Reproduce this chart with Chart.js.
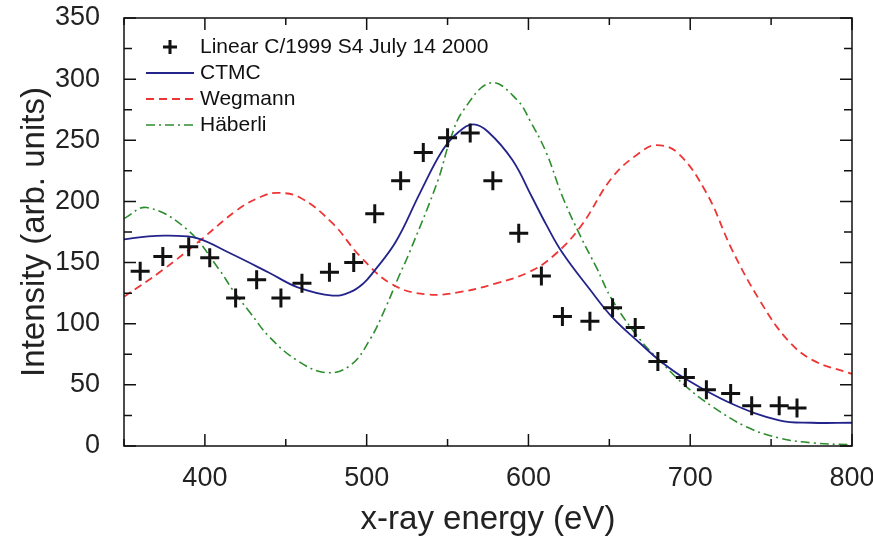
<!DOCTYPE html>
<html>
<head>
<meta charset="utf-8">
<script src="https://cdn.jsdelivr.net/npm/chart.js@4"></script>
<style>
  html, body { margin: 0; padding: 0; background: #fff; }
  #wrap { width: 873px; height: 540px; }
</style>
</head>
<body>
<div id="wrap"><canvas id="spectrumChart" width="873" height="540"></canvas></div>
<script>
// Measured spectrum (crosses)
const measX = [360, 374, 390, 403, 419, 432, 447, 460, 477, 492, 505, 521, 535, 550, 564,
               578, 594, 608, 621, 638, 652, 666, 680, 697, 710, 725, 738, 755, 766];
const measY = [143, 155, 163, 154, 121, 136, 121, 133, 142, 150, 190, 217, 240, 252, 256,
               217, 174, 139, 106, 102, 113, 97, 69, 56, 46, 43, 33, 33, 31];

// CTMC model
const ctmcX = [350, 365, 378, 395, 415, 440, 457, 479, 490, 498, 504, 518, 533, 547, 557,
               566, 575, 590, 602, 611, 621, 638, 652, 669, 681, 697, 725, 755, 775, 800];
const ctmcY = [169, 171.5, 172, 170, 158, 141.5, 130, 123, 126, 133, 142, 167, 207, 242, 257,
               263, 257, 234, 204, 181, 158, 128, 105, 84, 70, 55, 35, 21, 19, 19];

// Wegmann model
const wegX = [350, 374, 397, 420, 435, 445, 459, 479, 496, 516, 537, 558, 580, 600, 615,
              632, 652, 669, 679, 692, 710, 726, 743, 760, 776, 800];
const wegY = [122, 144, 168, 193, 204, 207, 203, 182, 155, 132, 124, 126, 133, 142, 155,
              179, 220, 240, 246, 240, 207, 160, 119, 87, 70, 59];

// Häberli model
const habX = [350, 364, 389, 409, 417, 428, 440, 457, 475, 490, 502, 512, 519, 527, 544,
              552, 560, 577, 593, 601, 611, 621, 632, 642, 652, 669, 681, 698, 714, 735,
              755, 776, 800];
const habY = [186, 195, 177, 144, 128, 109, 89, 70, 60, 66, 87, 114, 136, 160, 217,
              252, 275, 297, 283, 266, 240, 204, 172, 146, 119, 87, 70, 48, 32, 15.5,
              6.5, 2.5, 1];

// Axis ticks
const xTickValues = [400, 500, 600, 700, 800];
const yTickValues = [0, 50, 100, 150, 200, 250, 300, 350];
const xMinorStep = 50;
const yMinorStep = 25;

const FONT = "'Liberation Sans', Arial, sans-serif";

function toPoints(xs, ys) {
    return xs.map((x, i) => ({ x: x, y: ys[i] }));
}

// Frame with inward ticks on all four sides
const frameTicks = {
    id: 'frameTicks',
    afterDatasetsDraw(chart) {
        const { ctx, chartArea: a, scales: { x, y } } = chart;
        ctx.save();
        ctx.strokeStyle = '#111';
        ctx.lineWidth = 1.5;
        ctx.strokeRect(a.left, a.top, a.right - a.left, a.bottom - a.top);
        ctx.beginPath();
        for (let v = x.min; v <= x.max; v += xMinorStep) {
            const px = x.getPixelForValue(v);
            const len = v % 100 === 0 ? 12 : 7;
            ctx.moveTo(px, a.bottom); ctx.lineTo(px, a.bottom - len);
            ctx.moveTo(px, a.top); ctx.lineTo(px, a.top + len);
        }
        for (let v = y.min; v <= y.max; v += yMinorStep) {
            const py = y.getPixelForValue(v);
            const len = v % 50 === 0 ? 12 : 8;
            ctx.moveTo(a.left, py); ctx.lineTo(a.left + len, py);
            ctx.moveTo(a.right, py); ctx.lineTo(a.right - len, py);
        }
        ctx.stroke();
        ctx.restore();
    }
};

// Legend inside the plot, upper left
const insideLegend = {
    id: 'insideLegend',
    afterDraw(chart) {
        const ctx = chart.ctx;
        const rows = chart.data.datasets;
        ctx.save();
        ctx.font = '21px ' + FONT;
        ctx.textBaseline = 'middle';
        ctx.fillStyle = '#111';
        rows.forEach((ds, i) => {
            const rowY = 47 + i * 26;
            ctx.strokeStyle = ds.borderColor;
            if (ds.showLine === false) {
                ctx.lineWidth = 3;
                ctx.setLineDash([]);
                ctx.beginPath();
                ctx.moveTo(163, rowY); ctx.lineTo(177, rowY);
                ctx.moveTo(170, rowY - 7); ctx.lineTo(170, rowY + 7);
                ctx.stroke();
            } else {
                ctx.lineWidth = ds.borderWidth;
                ctx.setLineDash(ds.borderDash || []);
                ctx.beginPath();
                ctx.moveTo(146, rowY); ctx.lineTo(194, rowY);
                ctx.stroke();
            }
            ctx.fillText(ds.label, 200, rowY);
        });
        ctx.restore();
    }
};

new Chart(document.getElementById('spectrumChart').getContext('2d'), {
    type: 'scatter',
    data: {
        datasets: [{
            label: 'Linear C/1999 S4 July 14 2000',
            data: toPoints(measX, measY),
            showLine: false,
            pointStyle: 'cross',
            pointRadius: 9.5,
            pointBorderWidth: 3,
            borderColor: '#111',
            backgroundColor: '#111',
            order: 0
        }, {
            label: 'CTMC',
            data: toPoints(ctmcX, ctmcY),
            showLine: true,
            borderColor: '#23238c',
            borderWidth: 1.8,
            pointRadius: 0,
            tension: 0.4,
            order: 1
        }, {
            label: 'Wegmann',
            data: toPoints(wegX, wegY),
            showLine: true,
            borderColor: '#ee3535',
            borderWidth: 1.8,
            borderDash: [8, 5],
            pointRadius: 0,
            tension: 0.4,
            order: 2
        }, {
            label: 'Häberli',
            data: toPoints(habX, habY),
            showLine: true,
            borderColor: '#2d8d2d',
            borderWidth: 1.6,
            borderDash: [9, 4, 2, 4],
            pointRadius: 0,
            tension: 0.4,
            order: 3
        }]
    },
    options: {
        responsive: false,
        animation: false,
        layout: { padding: { left: 0, right: 21, top: 18, bottom: 0 } },
        plugins: {
            legend: { display: false },
            tooltip: { enabled: false }
        },
        scales: {
            x: {
                type: 'linear',
                min: 350,
                max: 800,
                afterBuildTicks: (scale) => { scale.ticks = xTickValues.map(v => ({ value: v })); },
                afterFit: (scale) => { scale.height = 94; scale.paddingLeft = 0; scale.paddingRight = 0; },
                grid: { display: false },
                border: { display: false },
                ticks: {
                    padding: 8,
                    color: '#222',
                    font: { family: FONT, size: 27 },
                    maxRotation: 0
                },
                title: {
                    display: true,
                    text: 'x-ray energy (eV)',
                    color: '#222',
                    font: { family: FONT, size: 33 },
                    padding: { top: 0, bottom: 0 }
                }
            },
            y: {
                min: 0,
                max: 350,
                afterBuildTicks: (scale) => { scale.ticks = yTickValues.map(v => ({ value: v })); },
                afterFit: (scale) => { scale.width = 124; scale.paddingTop = 0; scale.paddingBottom = 0; },
                grid: { display: false },
                border: { display: false },
                ticks: {
                    padding: 16,
                    color: '#222',
                    font: { family: FONT, size: 27 }
                },
                title: {
                    display: true,
                    text: 'Intensity (arb. units)',
                    color: '#222',
                    font: { family: FONT, size: 33 },
                    padding: { top: 15, bottom: 0 }
                }
            }
        }
    },
    plugins: [frameTicks, insideLegend]
});
</script>
</body>
</html>
